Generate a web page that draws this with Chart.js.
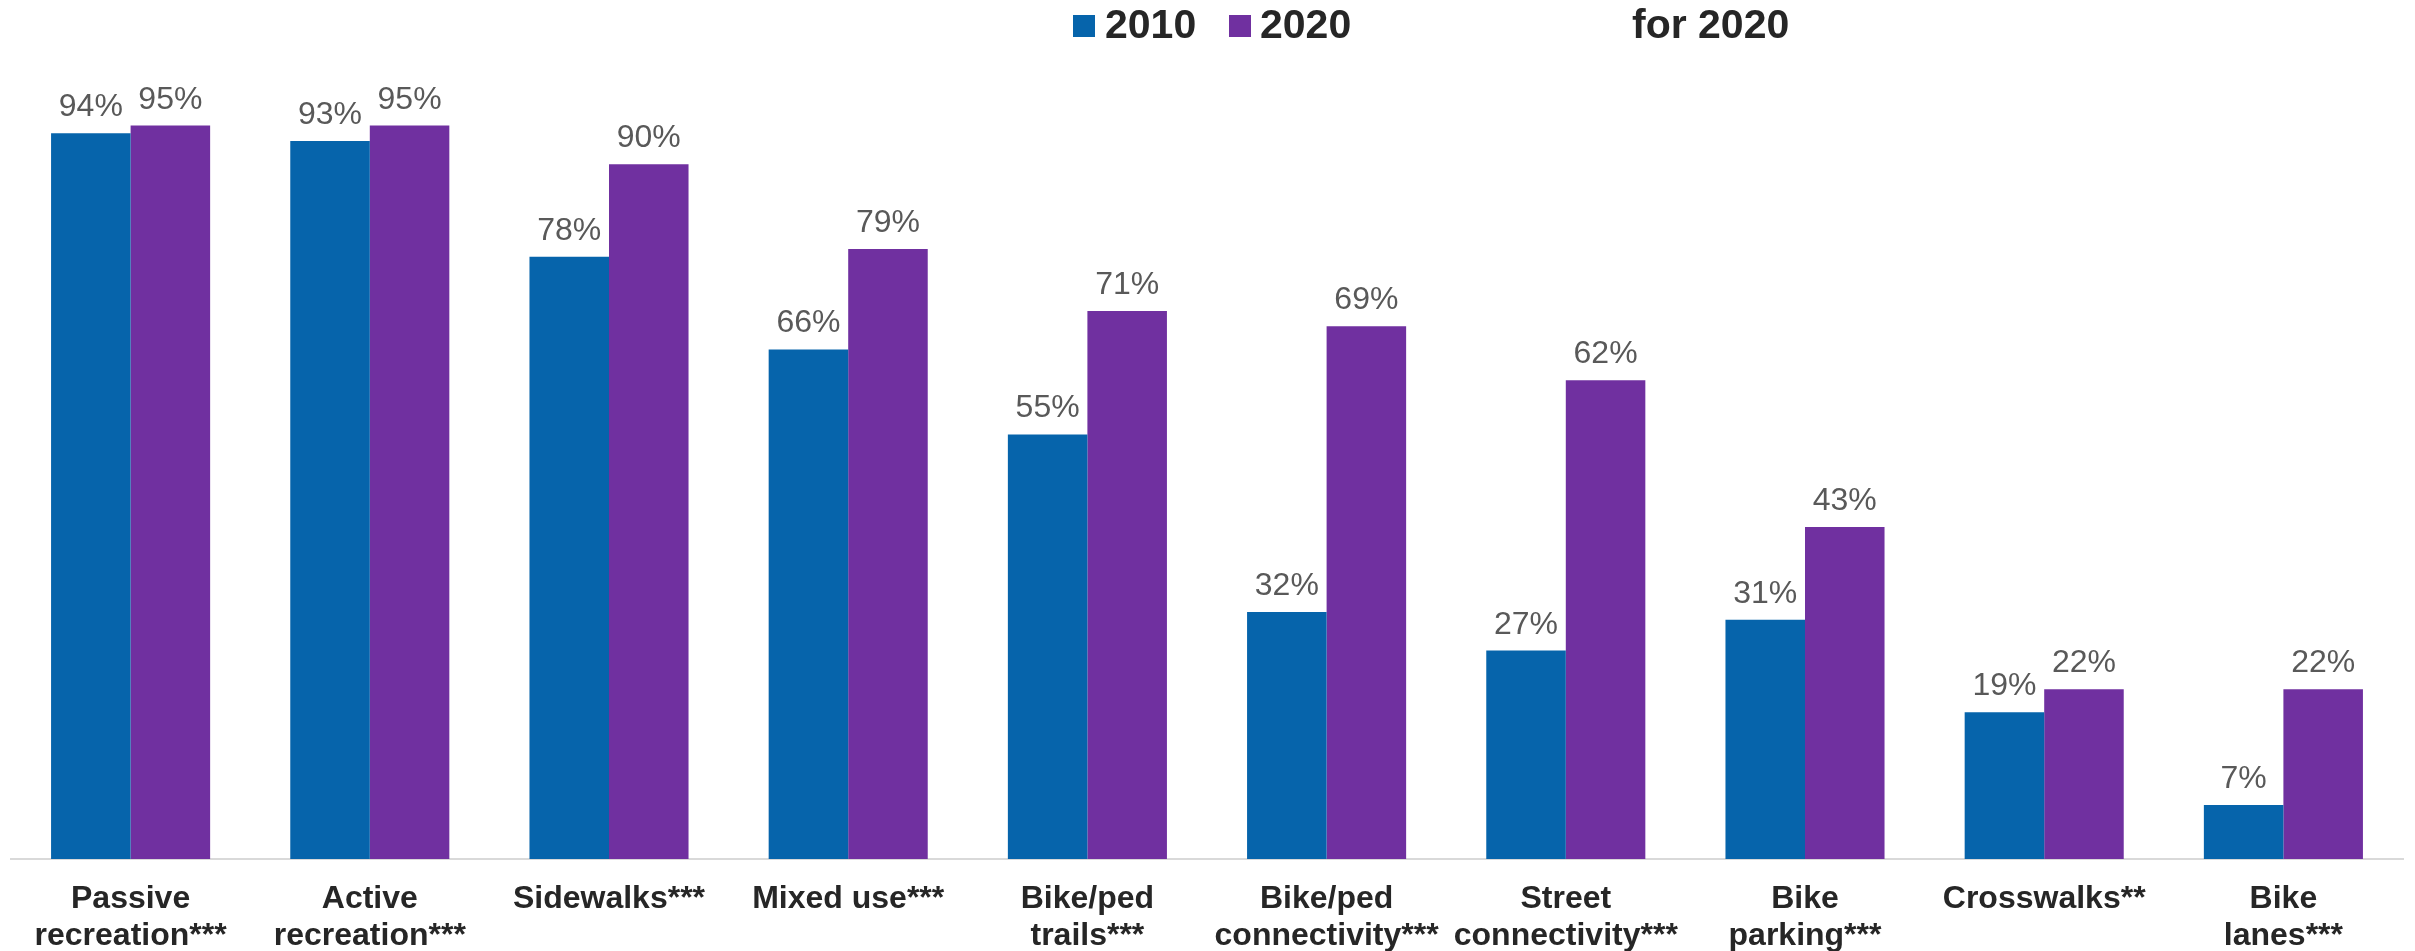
<!DOCTYPE html>
<html>
<head>
<meta charset="utf-8">
<script src="https://cdn.jsdelivr.net/npm/chart.js@4"></script>
<style>
  body { margin: 0; background: #fff; }
  #wrap { position: relative; width: 2415px; height: 951px; }
  .lg { position: absolute; font: bold 41px "Liberation Sans", Arial, sans-serif; color: #262626; line-height: 41px; top: 4px; }
  .box { position: absolute; width: 22px; height: 22px; top: 15px; }
</style>
</head>
<body>
<div id="wrap">
  <canvas id="chart" width="2415" height="951"></canvas>
  <div class="box" style="left:1073px;background:#0664ab"></div>
  <div class="lg" style="left:1105px">2010</div>
  <div class="box" style="left:1229px;background:#7030a0"></div>
  <div class="lg" style="left:1260px">2020</div>
  <div class="lg" style="left:1632px">for 2020</div>
</div>
<script>
const categories = [
  ["Passive", "recreation***"],
  ["Active", "recreation***"],
  "Sidewalks***",
  "Mixed use***",
  ["Bike/ped", "trails***"],
  ["Bike/ped", "connectivity***"],
  ["Street", "connectivity***"],
  ["Bike", "parking***"],
  "Crosswalks**",
  ["Bike", "lanes***"]
];
const values2010 = [94, 93, 78, 66, 55, 32, 27, 31, 19, 7];
const values2020 = [95, 95, 90, 79, 71, 69, 62, 43, 22, 22];

/* ===== VALUE LABELS ABOVE BARS ===== */
const valueLabels = {
  id: "valueLabels",
  afterDatasetsDraw(chart) {
    const ctx = chart.ctx;
    ctx.save();
    ctx.font = '32px "Liberation Sans", Arial, sans-serif';
    ctx.fillStyle = "#595959";
    ctx.textAlign = "center";
    ctx.textBaseline = "alphabetic";
    chart.data.datasets.forEach((ds, i) => {
      chart.getDatasetMeta(i).data.forEach((bar, j) => {
        ctx.fillText(ds.data[j] + "%", bar.x, bar.y - 17);
      });
    });
    ctx.restore();
  }
};

const ctx = document.getElementById("chart").getContext("2d");

new Chart(ctx, {
  type: "bar",
  data: {
    labels: categories,
    datasets: [
      { label: "2010", data: values2010, backgroundColor: "#0664ab" },
      { label: "2020", data: values2020, backgroundColor: "#7030a0" }
    ]
  },
  options: {
    responsive: false,
    animation: false,
    layout: { padding: { top: 87, left: 11, right: 12, bottom: 0 } },
    datasets: {
      bar: { categoryPercentage: 0.665, barPercentage: 1 }
    },
    plugins: {
      legend: { display: false },
      tooltip: { enabled: false }
    },
    scales: {
      x: {
        grid: { display: false, drawTicks: false },
        border: { color: "#d9d9d9", width: 2 },
        ticks: {
          color: "#262626",
          font: { family: '"Liberation Sans", Arial, sans-serif', size: 32, weight: "bold", lineHeight: 1.15 },
          padding: 22,
          maxRotation: 0,
          autoSkip: false
        },
        afterFit(scale) { scale.height = 92; }
      },
      y: {
        display: false,
        min: 0,
        max: 100
      }
    }
  },
  plugins: [valueLabels]
});
</script>
</body>
</html>
